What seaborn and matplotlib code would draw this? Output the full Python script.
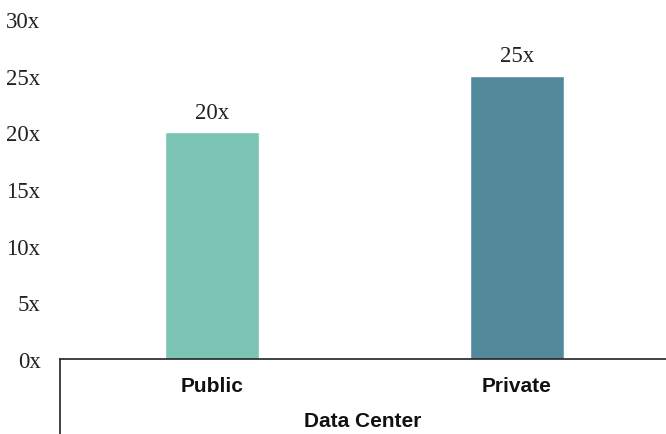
import matplotlib
matplotlib.use("Agg")
import matplotlib.pyplot as plt
import seaborn as sns
import pandas as pd
from matplotlib.lines import Line2D

categories = ["Public", "Private"]
values = [20, 25]
value_labels = ["20x", "25x"]
y_ticks = [0, 5, 10, 15, 20, 25, 30]
y_tick_labels = ["0x", "5x", "10x", "15x", "20x", "25x", "30x"]
colors = ["#7cc4b4", "#538a9b"]
x_title = "Data Center"

sns.set_theme(style="white")
plt.rcParams['font.family'] = ['Liberation Serif', 'DejaVu Serif']

df = pd.DataFrame({"cat": categories, "val": values})

fig = plt.figure(figsize=(6.66, 4.35), dpi=100)
W, H = 666, 435
ax = fig.add_axes([60 / W, (H - 360) / H, (666 - 60) / W, (360 - 20) / H])

sns.barplot(data=df, x="cat", y="val", hue="cat", palette=colors, order=categories,
            width=0.31, legend=False, ax=ax, saturation=1)

ax.set_ylim(0, 30)
ax.set_xlim(-0.498, 1.489)
ax.set_yticks(y_ticks)
ax.set_yticklabels(y_tick_labels, fontsize=16.5, color="#222222")
ax.tick_params(axis="y", length=0, pad=14)
ax.tick_params(axis="x", length=0, pad=12)
ax.set_xticks(range(len(categories)))
ax.set_xticklabels(categories, fontsize=15, fontweight="bold", family="Liberation Sans", color="#111111")
ax.set_ylabel("")
ax.set_xlabel(x_title, fontsize=15, fontweight="bold", family="Liberation Sans", color="#111111", labelpad=12)

for s in ["top", "right", "left"]:
    ax.spines[s].set_visible(False)
ax.spines["bottom"].set_color("#222222")
ax.spines["bottom"].set_linewidth(1.2)

for cont, lab in zip(ax.containers, value_labels):
    ax.bar_label(cont, labels=[lab], padding=7, fontsize=16.5, color="#222222")

fig.add_artist(Line2D([60 / W, 60 / W], [0, (H - 360) / H], color="#222222", linewidth=1.2,
                      transform=fig.transFigure))

fig.savefig("out.png", dpi=100)
